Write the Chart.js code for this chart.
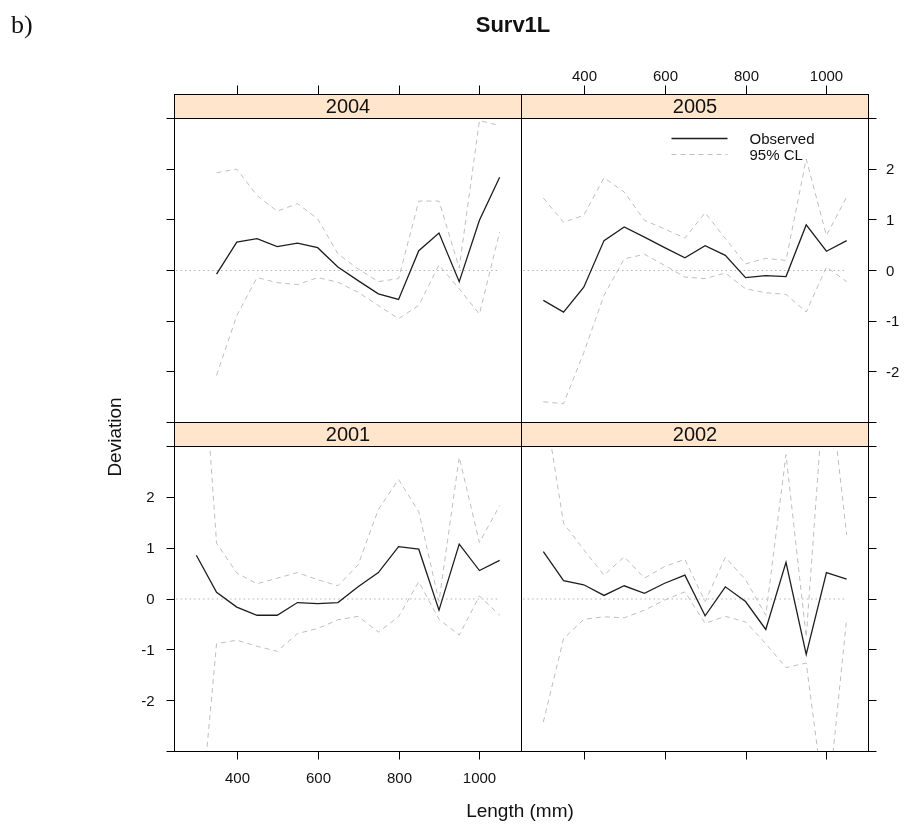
<!DOCTYPE html>
<html>
<head>
<meta charset="utf-8">
<script src="https://cdn.jsdelivr.net/npm/chart.js@4.4.1/dist/chart.umd.min.js"></script>
<style>
  html, body { margin: 0; padding: 0; background: #fff; }
  #fig { position: relative; width: 907px; height: 825px; overflow: hidden; }
  #fig canvas { position: absolute; left: 0; top: 0; }
</style>
</head>
<body>
<div id="fig">
  <canvas id="p2004" width="907" height="825"></canvas>
  <canvas id="p2005" width="907" height="825"></canvas>
  <canvas id="p2001" width="907" height="825"></canvas>
  <canvas id="p2002" width="907" height="825"></canvas>
</div>
<script>
// length classes (mm)
const LENGTH = [300, 350, 400, 450, 500, 550, 600, 650, 700, 750, 800, 850, 900, 950, 1000, 1050];

const OBS_2004 = [null, -0.07, 0.56, 0.63, 0.47, 0.54, 0.45, 0.07, -0.20, -0.46, -0.57, 0.39, 0.74, -0.22, 0.99, 1.84];
const UP_2004  = [null, 1.93, 2.00, 1.48, 1.17, 1.32, 1.02, 0.33, 0.03, -0.22, -0.16, 1.37, 1.37, 0.05, 2.96, 2.86];
const LO_2004  = [null, -2.07, -0.89, -0.14, -0.24, -0.28, -0.14, -0.23, -0.43, -0.69, -0.95, -0.69, 0.11, -0.36, -0.86, 0.76];

const OBS_2005 = [-0.59, -0.82, -0.33, 0.59, 0.86, 0.66, 0.45, 0.25, 0.49, 0.30, -0.14, -0.10, -0.12, 0.90, 0.38, 0.59];
const UP_2005  = [1.43, 0.95, 1.09, 1.83, 1.55, 0.99, 0.82, 0.64, 1.14, 0.63, 0.13, 0.24, 0.20, 2.20, 0.69, 1.45];
const LO_2005  = [-2.59, -2.63, -1.62, -0.49, 0.23, 0.32, 0.10, -0.13, -0.16, -0.05, -0.36, -0.44, -0.47, -0.82, 0.07, -0.22];

const OBS_2001 = [0.86, 0.13, -0.16, -0.32, -0.32, -0.07, -0.09, -0.07, 0.24, 0.52, 1.03, 0.98, -0.22, 1.08, 0.56, 0.76];
const UP_2001  = [6.8, 1.10, 0.51, 0.30, 0.41, 0.52, 0.38, 0.26, 0.67, 1.76, 2.35, 1.72, -0.05, 2.79, 1.11, 1.84];
const LO_2001  = [-5.2, -0.88, -0.81, -0.93, -1.03, -0.68, -0.58, -0.41, -0.34, -0.65, -0.35, 0.34, -0.40, -0.71, 0.06, -0.32];

const OBS_2002 = [0.93, 0.36, 0.28, 0.07, 0.26, 0.11, 0.31, 0.47, -0.33, 0.24, -0.05, -0.60, 0.72, -1.09, 0.52, 0.39];
const UP_2002  = [4.0, 1.49, 0.97, 0.47, 0.83, 0.41, 0.64, 0.78, -0.05, 0.82, 0.38, -0.32, 2.84, -0.75, 4.8, 1.26];
const LO_2002  = [-2.42, -0.78, -0.40, -0.35, -0.37, -0.22, -0.02, 0.14, -0.48, -0.34, -0.45, -0.88, -1.35, -1.26, -4.3, -0.38];

const REF_X   = [250, 1050];
const X_TICKS = [400, 600, 800, 1000];
const Y_TICKS = [-3, -2, -1, 0, 1, 2, 3];
const Y_LABELS = [-2, -1, 0, 1, 2];

const FONT = "'Liberation Sans', Arial, sans-serif";
const C = {
    obs:   "#1e1e1e",
    cl:    "#bfbfbf",
    ref:   "#b5b5b5",
    strip: "#ffe5cc",
    text:  "#111",
};

// panel boxes in page pixels
const COLS = [[174.5, 521.5], [521.5, 868.5]];
const ROWS = [[118.5, 422.5], [446.5, 751.5]];
const STRIP_H = 24;

function pts(ys) {
    return LENGTH.map((x, i) => ({ x, y: ys[i] }));
}

const frame = {
    id: "frame",
    afterDatasetsDraw(chart, args, o) {
        const { ctx, chartArea: a, scales: { x, y } } = chart;
        ctx.save();
        ctx.strokeStyle = "#000";
        ctx.lineWidth = 1;
        ctx.strokeRect(a.left, a.top, a.right - a.left, a.bottom - a.top);

        // strip
        const sTop = a.top - STRIP_H;
        ctx.fillStyle = C.strip;
        ctx.fillRect(a.left, sTop, a.right - a.left, STRIP_H);
        ctx.strokeRect(a.left, sTop, a.right - a.left, STRIP_H);
        ctx.fillStyle = C.text;
        ctx.font = "20px " + FONT;
        ctx.textAlign = "center";
        ctx.textBaseline = "middle";
        ctx.fillText(o.year, (a.left + a.right) / 2, sTop + STRIP_H / 2 + 1);

        // x axis: above the strip on the top row, below the panel on the bottom row
        ctx.font = "15px " + FONT;
        X_TICKS.forEach(v => {
            const px = Math.round(x.getPixelForValue(v)) + 0.5;
            ctx.beginPath();
            if (o.row === 0) { ctx.moveTo(px, sTop); ctx.lineTo(px, sTop - 9); }
            else { ctx.moveTo(px, a.bottom); ctx.lineTo(px, a.bottom + 8); }
            ctx.stroke();
            if (o.xLabels) {
                ctx.fillText(String(v), px, o.row === 0 ? sTop - 18 : a.bottom + 27);
            }
        });

        // y axis: left column ticks on the left, right column on the right
        const edge = o.col === 0 ? a.left : a.right;
        const dir = o.col === 0 ? -1 : 1;
        Y_TICKS.forEach(v => {
            const py = Math.round(y.getPixelForValue(v) - 0.5) + 0.5;
            ctx.beginPath();
            ctx.moveTo(edge, py);
            ctx.lineTo(edge + dir * 8, py);
            ctx.stroke();
        });
        if (o.yLabels) {
            ctx.textAlign = o.col === 0 ? "right" : "left";
            Y_LABELS.forEach(v => {
                const py = y.getPixelForValue(v);
                ctx.fillText(String(v), o.col === 0 ? a.left - 20 : a.right + 17.5, py + 1);
            });
        }

        // key
        if (o.key) {
            const kx = a.left + 150, ky = a.top + 20;
            ctx.strokeStyle = C.obs;
            ctx.lineWidth = 1.3;
            ctx.beginPath(); ctx.moveTo(kx, ky); ctx.lineTo(kx + 56, ky); ctx.stroke();
            ctx.strokeStyle = C.cl;
            ctx.lineWidth = 1;
            ctx.setLineDash([5, 4]);
            ctx.beginPath(); ctx.moveTo(kx, ky + 16); ctx.lineTo(kx + 56, ky + 16); ctx.stroke();
            ctx.setLineDash([]);
            ctx.fillStyle = C.text;
            ctx.textAlign = "left";
            ctx.fillText("Observed", kx + 78, ky + 1);
            ctx.fillText("95% CL", kx + 78, ky + 17);
        }
        ctx.restore();
    }
};

const figText = {
    id: "figText",
    afterDraw(chart, args, o) {
        if (!o.on) return;
        const ctx = chart.ctx;
        ctx.save();
        ctx.fillStyle = C.text;
        ctx.textBaseline = "alphabetic";
        ctx.textAlign = "left";
        ctx.font = "26px 'Liberation Serif', 'Times New Roman', serif";
        ctx.fillText("b)", 11, 33);
        ctx.textAlign = "center";
        ctx.textBaseline = "middle";
        ctx.font = "bold 22px " + FONT;
        ctx.fillText("Surv1L", 513, 26);
        ctx.font = "19px " + FONT;
        ctx.fillText("Length (mm)", 520, 812);
        ctx.translate(116, 437);
        ctx.rotate(-Math.PI / 2);
        ctx.fillText("Deviation", 0, 0);
        ctx.restore();
    }
};

function makePanel(id, year, obs, up, lo, col, row, opts) {
    const [x0, x1] = COLS[col];
    const [y0, y1] = ROWS[row];
    new Chart(document.getElementById(id), {
        type: "line",
        data: {
            datasets: [
                { data: pts(obs), borderColor: C.obs, borderWidth: 1.3, pointRadius: 0, tension: 0 },
                { data: pts(up), borderColor: C.cl, borderWidth: 1, borderDash: [5, 4], pointRadius: 0, tension: 0 },
                { data: pts(lo), borderColor: C.cl, borderWidth: 1, borderDash: [5, 4], pointRadius: 0, tension: 0 },
                { data: REF_X.map(x => ({ x, y: 0 })), borderColor: C.ref, borderWidth: 1, borderDash: [1.5, 3], pointRadius: 0 },
            ],
        },
        options: {
            responsive: false,
            animation: false,
            events: [],
            layout: { padding: { left: x0, right: 907 - x1, top: y0, bottom: 825 - y1 } },
            scales: {
                x: { type: "linear", min: 246, max: 1104, display: false },
                y: { min: -3, max: 3, display: false },
            },
            plugins: {
                legend: { display: false },
                tooltip: { enabled: false },
                frame: Object.assign({ year, col, row }, opts),
                figText: { on: !!opts.fig },
            },
        },
        plugins: [frame, figText],
    });
}

makePanel("p2004", "2004", OBS_2004, UP_2004, LO_2004, 0, 0, { fig: true });
makePanel("p2005", "2005", OBS_2005, UP_2005, LO_2005, 1, 0, { xLabels: true, yLabels: true, key: true });
makePanel("p2001", "2001", OBS_2001, UP_2001, LO_2001, 0, 1, { xLabels: true, yLabels: true });
makePanel("p2002", "2002", OBS_2002, UP_2002, LO_2002, 1, 1, {});
</script>
</body>
</html>
